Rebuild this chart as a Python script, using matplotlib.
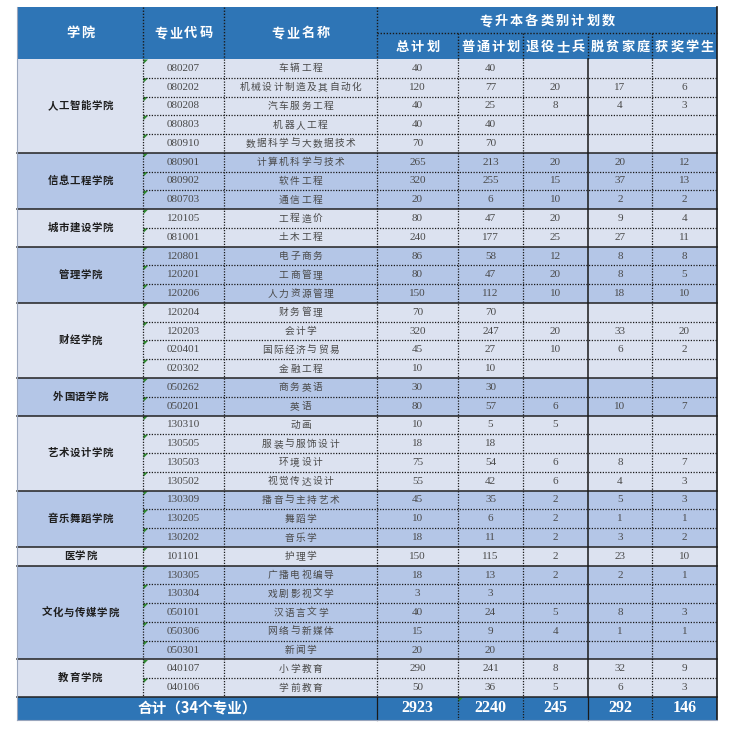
import matplotlib
matplotlib.use("Agg")
from matplotlib import pyplot as plt
from matplotlib.patches import Rectangle, Polygon

plt.rcParams['font.family'] = ['Noto Sans CJK SC', 'DejaVu Sans']

# colleges and how many majors each one has
colleges = ["人工智能学院", "信息工程学院", "城市建设学院", "管理学院", "财经学院", "外国语学院",
            "艺术设计学院", "音乐舞蹈学院", "医学院", "文化与传媒学院", "教育学院"]
college_rows = [5, 3, 2, 3, 4, 2, 4, 3, 1, 5, 2]

codes = ["080207", "080202", "080208", "080803", "080910",
         "080901", "080902", "080703",
         "120105", "081001",
         "120801", "120201", "120206",
         "120204", "120203", "020401", "020302",
         "050262", "050201",
         "130310", "130505", "130503", "130502",
         "130309", "130205", "130202",
         "101101",
         "130305", "130304", "050101", "050306", "050301",
         "040107", "040106"]
majors = ["车辆工程", "机械设计制造及其自动化", "汽车服务工程", "机器人工程", "数据科学与大数据技术",
          "计算机科学与技术", "软件工程", "通信工程",
          "工程造价", "土木工程",
          "电子商务", "工商管理", "人力资源管理",
          "财务管理", "会计学", "国际经济与贸易", "金融工程",
          "商务英语", "英语",
          "动画", "服装与服饰设计", "环境设计", "视觉传达设计",
          "播音与主持艺术", "舞蹈学", "音乐学",
          "护理学",
          "广播电视编导", "戏剧影视文学", "汉语言文学", "网络与新媒体", "新闻学",
          "小学教育", "学前教育"]
total = [40, 120, 40, 40, 70, 265, 320, 20, 80, 240, 86, 80, 150, 70, 320, 45, 10,
         30, 80, 10, 18, 75, 55, 45, 10, 18, 150, 18, 3, 40, 15, 20, 290, 50]
general = [40, 77, 25, 40, 70, 213, 255, 6, 47, 177, 58, 47, 112, 70, 247, 27, 10,
           30, 57, 5, 18, 54, 42, 35, 6, 11, 115, 13, 3, 24, 9, 20, 241, 36]
veteran = [None, 20, 8, None, None, 20, 15, 10, 20, 25, 12, 20, 10, None, 20, 10, None,
           None, 6, 5, None, 6, 6, 2, 2, 2, 2, 2, None, 5, 4, None, 8, 5]
poor = [None, 17, 4, None, None, 20, 37, 2, 9, 27, 8, 8, 18, None, 33, 6, None,
        None, 10, None, None, 8, 4, 5, 1, 3, 23, 2, None, 8, 1, None, 32, 6]
award = [None, 6, 3, None, None, 12, 13, 2, 4, 11, 8, 5, 10, None, 20, 2, None,
         None, 7, None, None, 7, 3, 3, 1, 2, 10, 1, None, 3, 1, None, 9, 3]
sum_row = [2923, 2240, 245, 292, 146]

sub_headers = ["总计划", "普通计划", "退役士兵", "脱贫家庭", "获奖学生"]

# layout in pixels
xs = [17, 143, 224, 377, 458, 523, 588, 652, 717]
top, mid, head_bot = 7, 33, 59
row_h = (697 - 59) / 34
bot = 697 + 23

HEAD = "#2E75B6"
LIGHT = "#DCE2F0"
DARK = "#B4C6E7"
TXT = "#4a4a4a"


def spaced(ax, x, y, s, size, pitch, **kw):
    # draw chinese text with letter spacing, centred on x
    n = len(s)
    x0 = x - pitch * (n - 1) / 2
    for i, ch in enumerate(s):
        ax.text(x0 + i * pitch, y, ch, fontsize=size, ha="center", va="center", **kw)


fig = plt.figure(figsize=(7.36, 7.33), dpi=100)
ax = fig.add_axes([0, 0, 1, 1])
ax.set_xlim(0, 736)
ax.set_ylim(733, 0)
ax.axis("off")

# header
ax.add_patch(Rectangle((xs[0], top), xs[-1] - xs[0], head_bot - top, color=HEAD, lw=0))
hd = dict(color="white", fontweight="bold")
spaced(ax, (xs[0] + xs[1]) / 2, (top + head_bot) / 2, "学院", 9.5, 15, **hd)
spaced(ax, (xs[1] + xs[2]) / 2, (top + head_bot) / 2, "专业代码", 9.5, 15, **hd)
spaced(ax, (xs[2] + xs[3]) / 2, (top + head_bot) / 2, "专业名称", 9.5, 15, **hd)
spaced(ax, (xs[3] + xs[-1]) / 2, (top + mid) / 2 + 1, "专升本各类别计划数", 9.5, 15.3, **hd)
for j, h in enumerate(sub_headers):
    spaced(ax, (xs[3 + j] + xs[4 + j]) / 2, (mid + head_bot) / 2 + 1, h, 9.5, 15.3, **hd)
ax.plot([xs[3], xs[-1]], [mid, mid], color="#1a1a1a", lw=1, ls=(0, (1, 1.2)))
for x in xs[1:4]:
    ax.plot([x, x], [top, head_bot], color="#1a1a1a", lw=1, ls=(0, (1, 1.2)))
for x in xs[4:-1]:
    ax.plot([x, x], [mid, head_bot], color="#1a1a1a", lw=1, ls=(0, (1, 1.2)))

# body
r = 0
for g, (college, n) in enumerate(zip(colleges, college_rows)):
    y0 = head_bot + r * row_h
    fill = LIGHT if g % 2 == 0 else DARK
    ax.add_patch(Rectangle((xs[0], y0), xs[-1] - xs[0], n * row_h, color=fill, lw=0))
    spaced(ax, (xs[0] + xs[1]) / 2, y0 + n * row_h / 2, college, 7.5, 11,
           color="#1e1e1e", fontweight="bold")
    for k in range(n):
        i = r + k
        yc = head_bot + (i + 0.5) * row_h
        ax.text((xs[1] + xs[2]) / 2, yc, codes[i], fontsize=8, ha="center", va="center",
                family="Liberation Serif", color=TXT)
        spaced(ax, (xs[2] + xs[3]) / 2, yc, majors[i], 7, 11.2, color=TXT)
        vals = [total[i], general[i], veteran[i], poor[i], award[i]]
        for j, v in enumerate(vals):
            if v is not None:
                ax.text((xs[3 + j] + xs[4 + j]) / 2, yc, str(v), fontsize=8, ha="center",
                        va="center", family="Liberation Serif", color=TXT)
        # little green excel marker
        yt = head_bot + i * row_h + 0.5
        ax.add_patch(Polygon([[xs[1] + 0.5, yt], [xs[1] + 5, yt], [xs[1] + 0.5, yt + 4.5]],
                             color="#2e8b2e", lw=0))
        if k > 0:
            ax.plot([xs[1], xs[-1]], [yt - 0.5, yt - 0.5], color="#1a1a1a", lw=0.9,
                    ls=(0, (1, 1.2)))
    r += n
    ax.plot([xs[0], xs[-1]], [head_bot + r * row_h] * 2, color="#222222", lw=1.1)

# column lines in the body
for x in [xs[1], xs[2], xs[3], xs[4], xs[5], xs[7]]:
    ax.plot([x, x], [head_bot, 697], color="#1a1a1a", lw=0.9, ls=(0, (1, 1.2)))
ax.plot([xs[6], xs[6]], [head_bot, 697], color="#1a1a1a", lw=1.1)
ax.plot([xs[-1], xs[-1]], [top, bot], color="#1a1a1a", lw=1.2)
ax.plot([xs[0], xs[0]], [top, bot], color="#9aa6bd", lw=0.8)

# totals row
ax.add_patch(Rectangle((xs[0], 697), xs[-1] - xs[0], bot - 697, color=HEAD, lw=0))
ax.text((xs[0] + xs[3]) / 2, (697 + bot) / 2, "合计（34个专业）", fontsize=10.5, ha="center",
        va="center", color="white", fontweight="bold")
for j, v in enumerate(sum_row):
    ax.text((xs[3 + j] + xs[4 + j]) / 2, (697 + bot) / 2, str(v), fontsize=11.5, ha="center",
            va="center", color="white", fontweight="bold", family="Liberation Serif")
for x in xs[4:-1]:
    ls = "-" if x == xs[6] else (0, (1, 1.2))
    ax.plot([x, x], [697, bot], color="#1a1a1a", lw=0.9, ls=ls)
ax.plot([xs[3], xs[3]], [697, bot], color="#1a1a1a", lw=0.9)
ax.add_patch(Polygon([[xs[4] + 0.5, 697.5], [xs[4] + 5, 697.5], [xs[4] + 0.5, 702]],
                     color="#2e8b2e", lw=0))
ax.plot([xs[0], xs[-1]], [bot, bot], color="#9aa6bd", lw=0.8)

fig.savefig("out.png", dpi=100)
